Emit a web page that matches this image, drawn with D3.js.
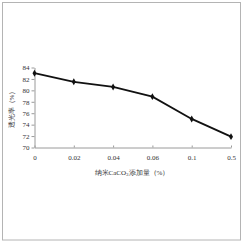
<!DOCTYPE html>
<html>
<head>
<meta charset="utf-8">
<script src="https://cdn.jsdelivr.net/npm/d3@7/dist/d3.min.js"></script>
<style>
  html, body { margin: 0; padding: 0; background: #fff; }
  text { font-family: 'Liberation Serif', 'DejaVu Serif', serif; }
</style>
</head>
<body>
<div id="chart"></div>
<script>
// datos
const categorias = ['0', '0.02', '0.04', '0.06', '0.1', '0.5'];
const transmitancia = [83, 81.5, 80.6, 78.9, 75, 71.9];
const yTicks = [70, 72, 74, 76, 78, 80, 82, 84];

const width = 243, height = 243;

const svg = d3.select('#chart').append('svg')
  .attr('width', width)
  .attr('height', height)
  .attr('viewBox', [0, 0, width, height]);

// marco exterior
svg.append('rect')
  .attr('x', 2.5).attr('y', 2.5)
  .attr('width', 238).attr('height', 237.5)
  .attr('fill', '#fff')
  .attr('stroke', '#b4b4b4')
  .attr('stroke-width', 1);

const x = d3.scalePoint().domain(categorias).range([34.5, 231]).padding(0);
const y = d3.scaleLinear().domain([70, 84]).range([147.5, 67.5]);

// eje y
const yAxis = svg.append('g')
  .attr('transform', 'translate(34.5,0)')
  .call(d3.axisLeft(y).tickValues(yTicks).tickSize(3).tickPadding(2).tickSizeOuter(0));

// eje x
const xAxis = svg.append('g')
  .attr('transform', 'translate(0,147.5)')
  .call(d3.axisBottom(x).tickSize(-2).tickPadding(8).tickSizeOuter(0));

[yAxis, xAxis].forEach(ax => {
  ax.select('.domain').attr('stroke', '#9a9a9a');
  ax.selectAll('.tick line').attr('stroke', '#9a9a9a');
  ax.selectAll('.tick text')
    .attr('fill', '#333')
    .style('font-size', '7px')
    .style('font-family', "'Liberation Serif', serif");
});

// línea
const data = categorias.map((c, i) => ({ c, v: transmitancia[i] }));

svg.append('path')
  .datum(data)
  .attr('fill', 'none')
  .attr('stroke', '#111')
  .attr('stroke-width', 1.8)
  .attr('d', d3.line().x(d => x(d.c)).y(d => y(d.v)));

svg.append('g').selectAll('path')
  .data(data)
  .join('path')
  .attr('transform', d => `translate(${x(d.c)},${y(d.v)})`)
  .attr('d', d3.symbol(d3.symbolDiamond, 14))
  .attr('fill', '#111');

// títulos
svg.append('text')
  .attr('x', 132).attr('y', 174.5)
  .attr('text-anchor', 'middle')
  .attr('fill', '#333')
  .style('font-size', '7px')
  .html('纳米CaCO<tspan dy="1.5" font-size="5">3</tspan><tspan dy="-1.5">添加量（%）</tspan>');

svg.append('text')
  .attr('transform', 'translate(13.5,108) rotate(-90)')
  .attr('text-anchor', 'middle')
  .attr('fill', '#333')
  .style('font-size', '7px')
  .text('透光率（%）');
</script>
</body>
</html>
